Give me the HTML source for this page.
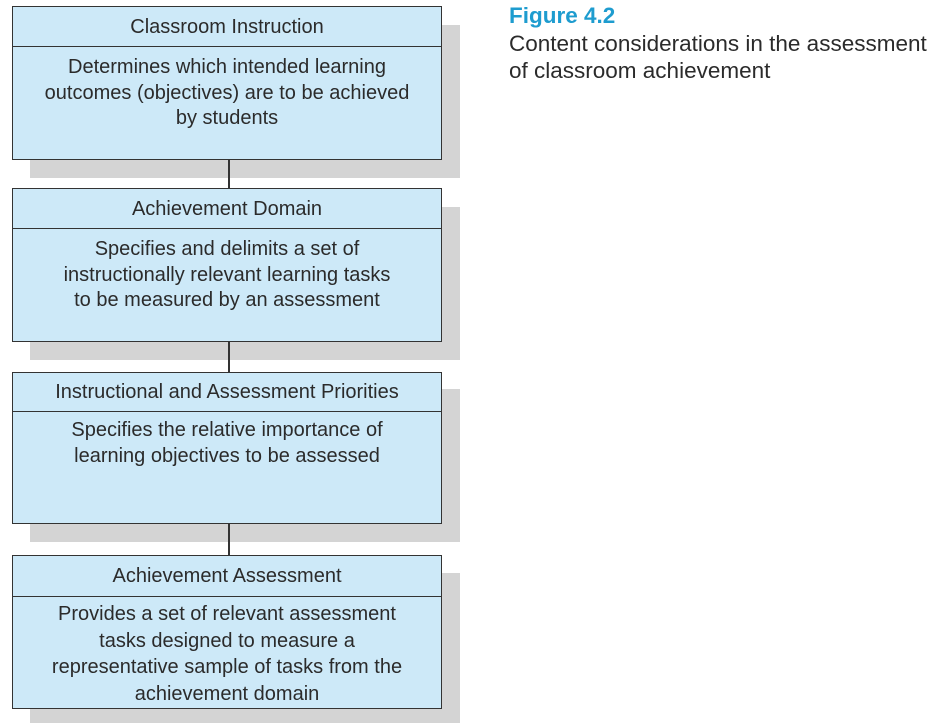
<!DOCTYPE html>
<html><head><style>
body{margin:0;width:939px;height:723px;background:#fff;position:relative;overflow:hidden;font-family:"Liberation Sans",Arial,sans-serif;color:#2b2b2b}
.sh{position:absolute;left:30px;width:430px;background:#d4d4d4}
.bx{position:absolute;left:12px;width:428px;background:#cde9f8;border:1.5px solid #333}
.hd{border-bottom:1.5px solid #333;text-align:center;font-size:20px;box-sizing:border-box;white-space:nowrap}
.bd{text-align:center;font-size:20px;line-height:25.5px;padding-top:8px;white-space:nowrap}
.ln{position:absolute;left:228px;width:1.5px;background:#333}
</style></head><body>
<div class="sh" style="top:25px;height:153px"></div>
<div class="sh" style="top:207px;height:153px"></div>
<div class="sh" style="top:389px;height:153px"></div>
<div class="sh" style="top:573px;height:150px"></div>
<div class="ln" style="top:159px;height:30px"></div>
<div class="ln" style="top:341px;height:31px"></div>
<div class="ln" style="top:523px;height:32px"></div>

<div class="bx" style="top:6px;height:152px">
<div class="hd" style="height:40px;line-height:40px">Classroom Instruction</div>
<div class="bd">Determines which intended learning<br>outcomes (objectives) are to be achieved<br>by students</div></div>

<div class="bx" style="top:188px;height:152px">
<div class="hd" style="height:40px;line-height:40px">Achievement Domain</div>
<div class="bd">Specifies and delimits a set of<br>instructionally relevant learning tasks<br>to be measured by an assessment</div></div>

<div class="bx" style="top:372px;height:150px">
<div class="hd" style="height:39px;line-height:39px">Instructional and Assessment Priorities</div>
<div class="bd" style="padding-top:6px">Specifies the relative importance of<br>learning objectives to be assessed</div></div>

<div class="bx" style="top:555px;height:152px">
<div class="hd" style="height:41px;line-height:41px">Achievement Assessment</div>
<div class="bd" style="padding-top:4px;line-height:26.5px">Provides a set of relevant assessment<br>tasks designed to measure a<br>representative sample of tasks from the<br>achievement domain</div></div>

<div style="position:absolute;left:509px;top:3px;font-size:22.5px;font-weight:bold;color:#1e9ccf;white-space:nowrap">Figure 4.2</div>
<div style="position:absolute;left:509px;top:31px;font-size:22.5px;line-height:26.5px;color:#2b2b2b;white-space:nowrap">Content considerations in the assessment<br>of classroom achievement</div>
</body></html>
